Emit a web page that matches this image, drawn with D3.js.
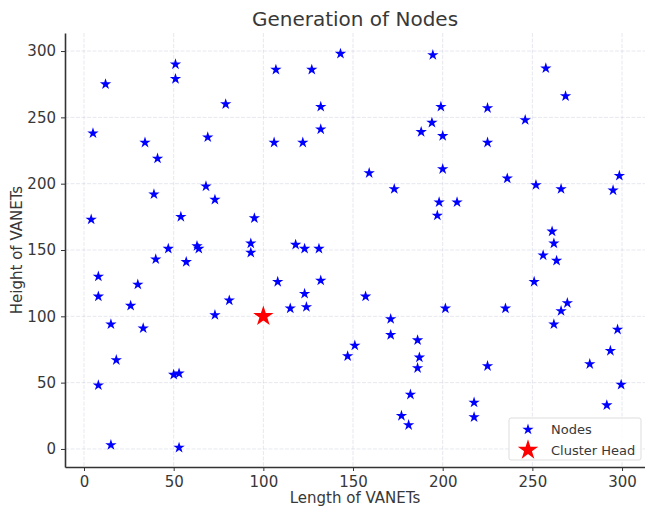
<!DOCTYPE html>
<html>
<head>
<meta charset="utf-8">
<script src="https://cdn.jsdelivr.net/npm/d3@7"></script>
<style>
  body { margin: 0; background: #fff; }
  text { font-family: "DejaVu Sans", sans-serif; fill: #383838; }
</style>
</head>
<body>
<div id="grafica"></div>
<script>
//data
var nodosX = [12, 51, 51, 79, 5, 34, 69, 41, 68, 39, 73, 4, 54, 95, 93, 93, 47, 63, 64, 40,
              57, 8, 8, 30, 26, 15, 33, 81, 73, 18, 50, 53, 8, 15, 53, 143, 194.5, 107, 127, 132,
              199, 132, 194, 188, 200, 106, 122, 159, 200, 173, 198, 197, 118, 123, 131, 108, 132, 123, 115, 124,
              157, 201.5, 171, 171, 186, 151, 147, 187, 186, 182, 177, 181, 257.5, 268.5, 225, 246, 225, 236, 298.5, 252,
              266, 295, 208, 261, 262, 256, 263.5, 251, 235, 269.5, 266, 262, 297.5, 293.5, 225, 282, 299.5, 217.5, 217.5, 291.5];
var nodosY = [275, 290, 279, 260, 238, 231, 235, 219, 198, 192, 188, 173, 175, 174, 155, 148, 151, 153, 151, 143,
              141, 130, 115, 124, 108, 94, 91, 112, 101, 67, 56, 57, 48, 3, 1, 298, 297, 286, 286, 258,
              258, 241, 246, 239, 236, 231, 231, 208, 211, 196, 186, 176, 154, 151, 151, 126, 127, 117, 106, 107,
              115, 106, 98, 86, 82, 78, 70, 69, 61, 41, 25, 18, 287, 266, 257, 248, 231, 204, 206, 199,
              196, 195, 186, 164, 155, 146, 142, 126, 106, 110, 104, 94, 90, 74, 62.5, 64, 48.5, 35, 24, 33];
var cabezaX = [100];
var cabezaY = [100];
var ticks = [0, 50, 100, 150, 200, 250, 300];

var width = 645,
    height = 510;

//plot area
var izq = 65, der = 645, arriba = 33, abajo = 467;

var svg = d3.select("#grafica")
            .append("svg")
             .attr("width", width)
             .attr("height", height);

var x = d3.scaleLinear().domain([-10.6, 312.8]).range([izq, der]);
var y = d3.scaleLinear().domain([-13.6, 313.6]).range([abajo, arriba]);

//grid
svg.append("g").selectAll("line")
   .data(ticks).enter()
   .append("line")
    .attr("x1", function(d) { return x(d); })
    .attr("x2", function(d) { return x(d); })
    .attr("y1", arriba).attr("y2", abajo)
    .attr("stroke", "#b8bcd0").attr("stroke-opacity", 0.35)
    .attr("stroke-dasharray", "4,1.5");
svg.append("g").selectAll("line")
   .data(ticks).enter()
   .append("line")
    .attr("y1", function(d) { return y(d); })
    .attr("y2", function(d) { return y(d); })
    .attr("x1", izq).attr("x2", der)
    .attr("stroke", "#b8bcd0").attr("stroke-opacity", 0.35)
    .attr("stroke-dasharray", "4,1.5");

//axes
var ejeX = svg.append("g")
   .attr("transform", "translate(0," + abajo + ")")
   .call(d3.axisBottom(x).tickValues(ticks).tickSize(4).tickPadding(5).tickSizeOuter(0));
var ejeY = svg.append("g")
   .attr("transform", "translate(" + izq + ",0)")
   .call(d3.axisLeft(y).tickValues(ticks).tickSize(4).tickPadding(5).tickSizeOuter(0));

[ejeX, ejeY].forEach(function(e) {
  e.select(".domain").attr("stroke", "#333").attr("stroke-width", 1.6);
  e.selectAll(".tick line").attr("stroke", "#333");
  e.selectAll(".tick text").style("font-size", "15px").style("font-family", "DejaVu Sans").attr("fill", "#383838");
});

//nodes
var estrella = d3.symbol().type(d3.symbolStar);
svg.append("g").selectAll("path")
   .data(nodosX).enter()
   .append("path")
    .attr("d", estrella.size(40)())
    .attr("transform", function(d, i) { return "translate(" + x(d) + "," + y(nodosY[i]) + ")"; })
    .attr("fill", "blue");

//cluster head
svg.append("g").selectAll("path")
   .data(cabezaX).enter()
   .append("path")
    .attr("d", d3.symbol().type(d3.symbolStar).size(130)())
    .attr("transform", function(d, i) { return "translate(" + x(d) + "," + y(cabezaY[i]) + ")"; })
    .attr("fill", "red");

//titles
svg.append("text")
   .attr("x", (izq + der) / 2).attr("y", 26)
   .attr("text-anchor", "middle")
   .style("font-size", "20px")
   .text("Generation of Nodes");
svg.append("text")
   .attr("x", (izq + der) / 2).attr("y", 503)
   .attr("text-anchor", "middle")
   .style("font-size", "15px")
   .text("Length of VANETs");
svg.append("text")
   .attr("transform", "translate(22," + (arriba + abajo) / 2 + ") rotate(-90)")
   .attr("text-anchor", "middle")
   .style("font-size", "15px")
   .text("Height of VANETs");

//legend
var leyenda = svg.append("g").attr("transform", "translate(509,418)");
leyenda.append("rect")
   .attr("width", 132).attr("height", 42).attr("rx", 2)
   .attr("fill", "#fff").attr("fill-opacity", 0.8)
   .attr("stroke", "#ddd");
leyenda.append("path")
   .attr("d", estrella.size(40)())
   .attr("transform", "translate(19,11.5)")
   .attr("fill", "blue");
leyenda.append("path")
   .attr("d", d3.symbol().type(d3.symbolStar).size(130)())
   .attr("transform", "translate(19,32)")
   .attr("fill", "red");
leyenda.append("text").attr("x", 42).attr("y", 16).style("font-size", "13px").text("Nodes");
leyenda.append("text").attr("x", 42).attr("y", 36.5).style("font-size", "13px").text("Cluster Head");
</script>
</body>
</html>
